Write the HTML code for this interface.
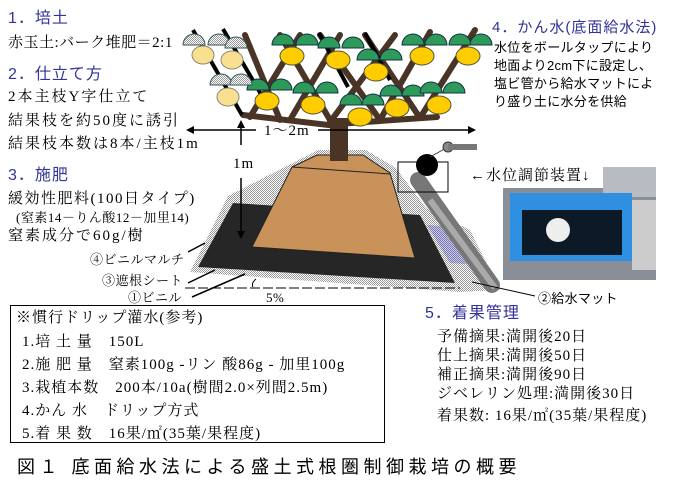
<!DOCTYPE html>
<html><head><meta charset="utf-8"><style>
body{margin:0;background:#fff;width:676px;height:493px;overflow:hidden;position:relative;font-family:"Liberation Serif","Noto Serif CJK SC","Noto Sans CJK JP",serif;}
.t{position:absolute;white-space:nowrap;color:#000;font-size:15px;line-height:1;letter-spacing:1px}
.b{color:#33339a;font-family:"Liberation Sans","Noto Sans CJK JP",sans-serif;font-size:16px;letter-spacing:1px}
.s{font-size:13px;letter-spacing:0.5px}
.r{font-size:13px;letter-spacing:0.3px;font-family:"Liberation Sans","Noto Sans CJK JP",sans-serif}
</style></head><body>
<svg width="676" height="493" style="position:absolute;left:0;top:0">
<defs>
<pattern id="chk" width="2" height="2" patternUnits="userSpaceOnUse"><rect width="2" height="2" fill="#fff"/><rect width="1" height="1" fill="#999"/><rect x="1" y="1" width="1" height="1" fill="#999"/></pattern>
<pattern id="bl" width="2" height="2" patternUnits="userSpaceOnUse"><rect width="2" height="2" fill="#ccd"/><rect width="1" height="1" fill="#7777bb"/><rect x="1" y="1" width="1" height="1" fill="#7777bb"/></pattern>
</defs>
<polygon points="228,196 318,150 366,150 396,168 426,208 470,230 500,290 460,292 190,272" fill="url(#chk)"/>
<polygon points="233,203 420,215 455,283 198,267" fill="#262626"/>
<polygon points="427,225 455,227 480,265 450,263" fill="url(#bl)"/>
<line x1="418" y1="180" x2="492" y2="285" stroke="#777" stroke-width="16" stroke-linecap="round"/>
<line x1="430" y1="200" x2="495" y2="288" stroke="#aaa" stroke-width="6"/>
<polygon points="292,167 317,155 363,155 390,173 415,258 252,247" fill="#c8925a" stroke="#222" stroke-width="1"/>
<line x1="292" y1="167" x2="390" y2="174" stroke="#222"/>
<rect x="330" y="118" width="18" height="43" fill="#4a3426"/>
<rect x="398" y="162" width="50" height="30" fill="none" stroke="#000"/>
<circle cx="427" cy="165" r="11" fill="#000"/>
<line x1="430" y1="157" x2="448" y2="147" stroke="#333"/>
<circle cx="448" cy="147" r="5" fill="#888" stroke="#333"/>
<rect x="448" y="144" width="29" height="6" fill="#777"/>
<g stroke="#4a3426" stroke-width="6" stroke-linecap="round">
<line x1="243" y1="115" x2="337" y2="126"/><line x1="337" y1="124" x2="437" y2="117"/>
<line x1="250" y1="117" x2="300" y2="35"/><line x1="290" y1="120" x2="340" y2="35"/>
<line x1="330" y1="122" x2="395" y2="35"/><line x1="380" y1="120" x2="430" y2="32"/>
<line x1="420" y1="118" x2="475" y2="30"/>
<line x1="280" y1="120" x2="245" y2="35"/><line x1="330" y1="120" x2="280" y2="35"/>
<line x1="380" y1="120" x2="320" y2="35"/><line x1="420" y1="118" x2="365" y2="35"/>
</g>
<g stroke="#000" stroke-width="4">
<line x1="193" y1="30" x2="242" y2="115"/><line x1="223" y1="29" x2="262" y2="96"/>
<line x1="319" y1="33" x2="348" y2="87"/><line x1="365" y1="33" x2="390" y2="80"/>
</g>
<g fill="#2e9a5a" stroke="#134">
<path d="M272,45 a10,10 0 0 1 22,0z"/><path d="M296,45 a10,10 0 0 1 22,0z"/>
<path d="M318,48 a10,10 0 0 1 22,0z"/><path d="M342,48 a10,10 0 0 1 22,0z"/>
<path d="M357,60 a10,10 0 0 1 22,0z"/><path d="M380,60 a10,10 0 0 1 22,0z"/>
<path d="M402,45 a10,10 0 0 1 22,0z"/><path d="M425,45 a10,10 0 0 1 22,0z"/>
<path d="M449,45 a10,10 0 0 1 22,0z"/><path d="M470,45 a10,10 0 0 1 22,0z"/>
<path d="M247,90 a10,10 0 0 1 22,0z"/><path d="M270,90 a10,10 0 0 1 22,0z"/>
<path d="M293,93 a10,10 0 0 1 22,0z"/><path d="M316,93 a10,10 0 0 1 22,0z"/>
<path d="M340,105 a10,10 0 0 1 22,0z"/><path d="M362,105 a10,10 0 0 1 22,0z"/>
<path d="M380,96 a10,10 0 0 1 22,0z"/><path d="M402,96 a10,10 0 0 1 22,0z"/>
<path d="M420,93 a10,10 0 0 1 22,0z"/><path d="M443,93 a10,10 0 0 1 22,0z"/>
</g>
<g fill="url(#chk)" stroke="#355">
<path d="M183,45 a10,10 0 0 1 22,0z"/><path d="M208,45 a10,10 0 0 1 22,0z"/><path d="M225,48 a10,10 0 0 1 22,0z"/>
<path d="M210,85 a10,10 0 0 1 22,0z"/><path d="M230,85 a10,10 0 0 1 22,0z"/>
</g>
<g fill="#ffcc00" stroke="#553">
<ellipse cx="292" cy="56" rx="12" ry="9"/><ellipse cx="338" cy="60" rx="12" ry="9"/>
<ellipse cx="376" cy="72" rx="12" ry="9"/><ellipse cx="422" cy="56" rx="12" ry="9"/>
<ellipse cx="468" cy="56" rx="12" ry="9"/><ellipse cx="267" cy="101" rx="12" ry="9"/>
<ellipse cx="313" cy="105" rx="12" ry="9"/><ellipse cx="360" cy="117" rx="12" ry="9"/>
<ellipse cx="397" cy="108" rx="12" ry="9"/><ellipse cx="439" cy="105" rx="12" ry="9"/>
</g>
<g fill="#f8e090" stroke="#887"><ellipse cx="203" cy="55" rx="11" ry="9"/><ellipse cx="232" cy="60" rx="11" ry="9"/><ellipse cx="228" cy="97" rx="11" ry="9"/></g>
<g stroke="#000" stroke-width="1.5">
<line x1="188" y1="130" x2="256" y2="130"/><line x1="318" y1="130" x2="474" y2="130"/>
<line x1="241" y1="122" x2="241" y2="145"/><line x1="241" y1="178" x2="241" y2="236"/>
<line x1="188" y1="252" x2="205" y2="243"/><line x1="188" y1="283" x2="215" y2="270"/><line x1="192" y1="297" x2="245" y2="274"/>
</g>
<polygon points="186,130 194,126 194,134"/><polygon points="476,130 468,126 468,134"/>
<polygon points="241,120 237,128 245,128"/><polygon points="241,239 237,231 245,231"/>
<line x1="185" y1="288" x2="460" y2="288" stroke="#000" stroke-dasharray="10,3"/>
<path d="M256,279 q-5,4 -3,8" fill="none" stroke="#000"/>
<line x1="472" y1="282" x2="535" y2="296" stroke="#000"/>
<rect x="503" y="188" width="153" height="92" fill="#8a8e96"/>
<rect x="603" y="167" width="53" height="30" fill="#b8bcc2"/>
<rect x="510" y="193" width="122" height="68" fill="#2f8fe0"/>
<rect x="522" y="210" width="100" height="45" fill="#0c1a28"/>
<circle cx="558" cy="230" r="12" fill="#eee"/>
<rect x="632" y="200" width="24" height="70" fill="#ccc"/>
<rect x="10.5" y="305.5" width="374" height="137" fill="none" stroke="#000"/>
</svg>
<div class="t b" style="left:8px;top:11px">1．培土</div>
<div class="t" style="left:8px;top:36px;letter-spacing:0.5px">赤玉土:バーク堆肥＝2:1</div>
<div class="t b" style="left:8px;top:67px">2．仕立て方</div>
<div class="t" style="left:8px;top:90px;letter-spacing:2px">2本主枝Y字仕立て</div>
<div class="t" style="left:8px;top:114px;letter-spacing:2px">結果枝を約50度に誘引</div>
<div class="t" style="left:8px;top:137px;letter-spacing:2px">結果枝本数は8本/主枝1m</div>
<div class="t b" style="left:8px;top:168px">3．施肥</div>
<div class="t" style="left:8px;top:192px;letter-spacing:1.5px">緩効性肥料(100日タイプ)</div>
<div class="t s" style="left:16px;top:211px">(窒素14－りん酸12－加里14)</div>
<div class="t" style="left:8px;top:229px;letter-spacing:2px">窒素成分で60g/樹</div>
<div class="t s" style="left:90px;top:253px">④ビニルマルチ</div>
<div class="t s" style="left:102px;top:274px">③遮根シート</div>
<div class="t s" style="left:128px;top:291px">①ビニル</div>
<div class="t s" style="left:266px;top:291px">5%</div>
<div class="t" style="left:264px;top:124px">1～2m</div>
<div class="t" style="left:233px;top:157px">1m</div>
<div class="t b" style="left:492px;top:20px;font-size:15px">4．かん水(底面給水法)</div>
<div class="t r" style="left:494px;top:41px">水位をボールタップにより</div>
<div class="t r" style="left:494px;top:59px">地面より2cm下に設定し、</div>
<div class="t r" style="left:494px;top:77px">塩ビ管から給水マットによ</div>
<div class="t r" style="left:494px;top:95px">り盛り土に水分を供給</div>
<div class="t" style="left:470px;top:169px">←水位調節装置↓</div>
<div class="t r" style="left:538px;top:292px">②給水マット</div>
<div class="t b" style="left:425px;top:306px">5．着果管理</div>
<div class="t" style="left:437px;top:330px">予備摘果:満開後20日</div>
<div class="t" style="left:437px;top:349px">仕上摘果:満開後50日</div>
<div class="t" style="left:437px;top:368px">補正摘果:満開後90日</div>
<div class="t" style="left:437px;top:387px">ジベレリン処理:満開後30日</div>
<div class="t" style="left:437px;top:409px">着果数: 16果/㎡(35葉/果程度)</div>
<div class="t" style="left:16px;top:311px">※慣行ドリップ灌水(参考)</div>
<div class="t" style="left:22px;top:335px">1.培 土 量　150L</div>
<div class="t" style="left:22px;top:358px">2.施 肥 量　窒素100g -リン 酸86g - 加里100g</div>
<div class="t" style="left:22px;top:381px">3.栽植本数　200本/10a(樹間2.0×列間2.5m)</div>
<div class="t" style="left:22px;top:404px">4.かん 水　ドリップ方式</div>
<div class="t" style="left:22px;top:427px">5.着 果 数　16果/㎡(35葉/果程度)</div>
<div class="t" style="left:17px;top:458px;font-size:18px;letter-spacing:4.5px;font-family:'Liberation Sans','Noto Sans CJK JP',sans-serif">図１ 底面給水法による盛土式根圏制御栽培の概要</div>
</body></html>
